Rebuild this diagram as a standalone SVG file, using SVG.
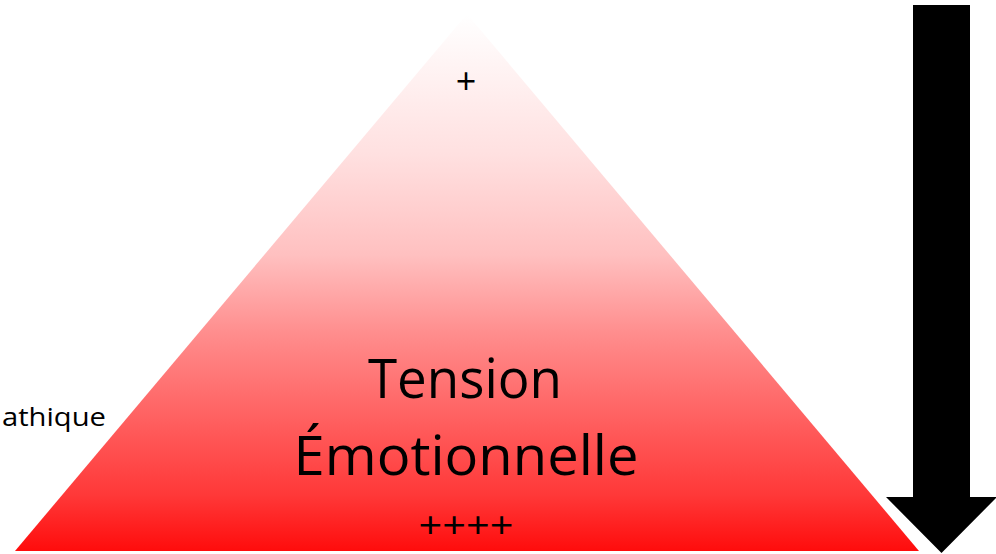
<svg xmlns="http://www.w3.org/2000/svg" width="996" height="554" viewBox="0 0 996 554">
<style>
text{font-family:"Open Sans","Liberation Sans",sans-serif;fill:#000}
.big{font-size:54px}
.mid{font-size:36px}
</style>
<defs>
<linearGradient id="g" x1="0" y1="15" x2="0" y2="551" gradientUnits="userSpaceOnUse">
<stop offset="0" stop-color="#ffffff"/>
<stop offset="0.261" stop-color="#ffe0e0"/>
<stop offset="0.448" stop-color="#ffc0c0"/>
<stop offset="0.597" stop-color="#ff8c8c"/>
<stop offset="0.896" stop-color="#ff3838"/>
<stop offset="1" stop-color="#ff0c0c"/>
</linearGradient>
</defs>
<rect width="996" height="554" fill="#fff"/>
<g id="pyramid">
<polygon points="467,14 919,551 15,551" fill="url(#g)"/>
<text x="466" y="94" class="mid" text-anchor="middle">+</text>
<text x="465" y="398" class="big" text-anchor="middle" textLength="194" lengthAdjust="spacingAndGlyphs">Tension</text>
<text x="466" y="475" class="big" text-anchor="middle" textLength="345" lengthAdjust="spacingAndGlyphs">Émotionnelle</text>
<text x="466" y="538" class="mid" text-anchor="middle" textLength="95" lengthAdjust="spacingAndGlyphs">++++</text>
</g>
<g id="label">
<text x="2" y="426" style="font-size:26px" textLength="104" lengthAdjust="spacingAndGlyphs">athique</text>
</g>
<g id="connectors">
<polygon points="913,5 970,5 970,497 997,497 941.5,553 886,497 913,497" fill="#000"/>
</g>
</svg>
